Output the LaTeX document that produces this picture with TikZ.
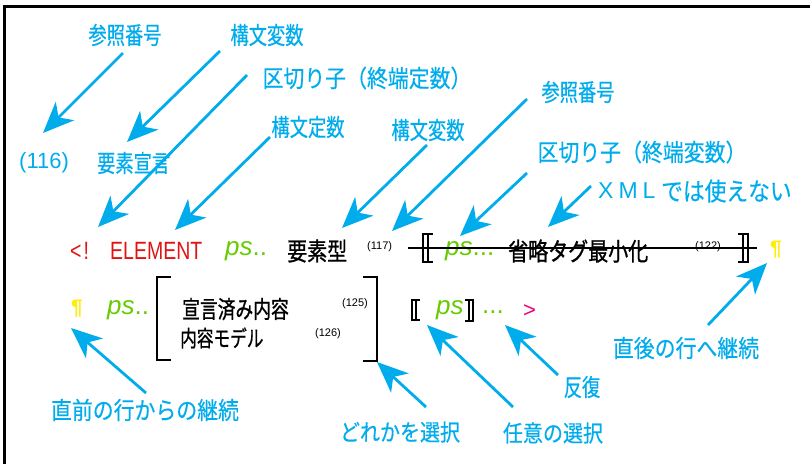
\documentclass[tikz,border=0pt]{standalone}
\usepackage{fontspec}
\setmainfont{Liberation Sans}
\newfontfamily\jpw[FakeStretch=0.87,FakeBold=0.4]{Noto Sans CJK JP}
\newfontfamily\jpn[FakeStretch=0.76,FakeBold=0.4]{Noto Sans CJK JP}
\newfontfamily\jpb[FakeStretch=0.80,FakeBold=0.8]{Noto Sans CJK JP}
\newfontfamily\jpbn[FakeStretch=0.74,FakeBold=0.8]{Noto Sans CJK JP}
\newfontfamily\narrowsans[FakeStretch=0.78]{Liberation Sans}
\usetikzlibrary{arrows.meta}
\definecolor{cyanc}{RGB}{0,172,236}
\definecolor{redc}{RGB}{225,20,20}
\definecolor{greenc}{RGB}{102,204,0}
\definecolor{yellowc}{RGB}{255,238,0}
\definecolor{pinkc}{RGB}{240,0,120}
\tikzset{
  lbl/.style={text=cyanc, inner sep=0pt, font=\jpw\fontsize{24}{26}\selectfont},
  lbln/.style={text=cyanc, inner sep=0pt, font=\jpn\fontsize{24}{26}\selectfont},
  arr/.style={draw=cyanc, line width=2.8pt, -{Stealth[length=31pt,width=26pt,inset=9pt]}},
  blk/.style={text=black, inner sep=0pt, anchor=west, font=\jpb\fontsize{25}{27}\selectfont},
  num/.style={text=black, inner sep=0pt, anchor=west, font=\fontsize{11}{12}\selectfont},
  grn/.style={text=greenc, inner sep=0pt, anchor=west, font=\fontsize{26}{28}\selectfont},
  para/.style={text=yellowc, inner sep=0pt, font=\bfseries\fontsize{21}{23}\selectfont},
  br/.style={draw=black, line width=1.6pt},
  bigbr/.style={draw=black, line width=2.5pt}
}
\begin{document}
\begin{tikzpicture}[x=1pt,y=-1pt]
\useasboundingbox (0,0) rectangle (810,464);
% frame
\draw[line width=3pt] (4,464) -- (4,6) -- (810,6);

% top labels
\node[lbln] (ref1) at (125,35) {参照番号};
\node[lbln] (var1) at (267,35) {構文変数};
\node[lbl] (delim1) at (367,78) {区切り子（終端定数）};
\node[lbln] (const) at (308,127) {構文定数};
\node[lbln] (var2) at (428,130) {構文変数};
\node[lbln] (ref2) at (578,92) {参照番号};
\node[lbl] (delim2) at (642,152) {区切り子（終端変数）};
\node[text=cyanc, inner sep=0pt, anchor=west, font=\fontsize{23}{26}\selectfont] (xmlw) at (598,191) {X\kern5pt M\kern5pt L};
\node[lbl, anchor=west, font=\jpw\fontsize{25}{27}\selectfont] (xml) at (661,191) {では使えない};
\node[text=cyanc, inner sep=0pt, anchor=west, font=\fontsize{22}{24}\selectfont] (n116) at (19,163) {(116)};
\node[lbln, anchor=west] (decl) at (97,163) {要素宣言};

% row 1
\node[text=redc, inner sep=0pt, anchor=west, font=\narrowsans\fontsize{25}{27}\selectfont] (lt) at (70,251) {<\kern2pt!};
\node[text=redc, inner sep=0pt, anchor=west, font=\narrowsans\fontsize{25}{27}\selectfont] (elem) at (110,251) {ELEMENT};
\node[grn] (ps1) at (225,251) {\textit{ps}..};
\node[blk] (etype) at (287,251) {要素型};
\node[num] (n117) at (367,247) {(117)};
\node[grn] (ps2) at (445,251) {\textit{ps}...};
\node[blk] (omit) at (508,251) {省略タグ最小化};
\node[num] (n122) at (695,247) {(122)};
\node[para] (para1) at (776,250) {¶};
% strike line and double brackets
\draw[line width=1.5pt] (408,248) -- (757,248);
\draw[br] (433,234) -- (423,234) -- (423,262) -- (433,262);
\draw[br] (428,234) -- (428,262);
\draw[br] (738,234) -- (748,234) -- (748,262) -- (738,262);
\draw[br] (743,234) -- (743,262);

% row 2
\node[para] (para2) at (77,309) {¶};
\node[grn] (ps3) at (107,310) {\textit{ps}..};
\node[blk, font=\jpbn\fontsize{24}{26}\selectfont] (cdecl) at (182,309) {宣言済み内容};
\node[num] (n125) at (342,304) {(125)};
\node[blk, font=\jpbn\fontsize{22.5}{24}\selectfont] (cmodel) at (180,338) {内容モデル};
\node[num] (n126) at (315,334) {(126)};
\draw[bigbr] (171,277) -- (157,277) -- (157,360) -- (171,360);
\draw[bigbr] (363,277) -- (377,277) -- (377,361) -- (363,361);
\draw[br] (420,300) -- (412,300) -- (412,320) -- (420,320);
\draw[br] (416,300) -- (416,320);
\draw[br] (465,300) -- (473,300) -- (473,321) -- (465,321);
\draw[br] (469,300) -- (469,321);
\node[grn] (ps4) at (436,310) {\textit{ps}};
\node[grn] (dots) at (482,312) {...};
\node[text=pinkc, inner sep=0pt, anchor=west, font=\fontsize{22}{24}\selectfont] (gt) at (523,311) {>};

% bottom labels
\node[lbl] (prev) at (145,410) {直前の行からの継続};
\node[lbl, font=\jpw\fontsize{23}{26}\selectfont] (anyone) at (400,432) {どれかを選択};
\node[lbl, font=\jpw\fontsize{23}{26}\selectfont] (opt) at (553,433) {任意の選択};
\node[lbl, font=\jpn\fontsize{24}{26}\selectfont] (rep) at (582,387) {反復};
\node[lbl] (next) at (686,348) {直後の行へ継続};

% arrow end points
\coordinate (a1s) at (123,53);  \coordinate (a1e) at (43,133);
\coordinate (a2s) at (220,51);  \coordinate (a2e) at (127,142);
\coordinate (a3s) at (247,75);  \coordinate (a3e) at (98,227);
\coordinate (a4s) at (270,137); \coordinate (a4e) at (175,230);
\coordinate (a5s) at (427,145); \coordinate (a5e) at (342,228);
\coordinate (a6s) at (527,99);  \coordinate (a6e) at (392,231);
\coordinate (a7s) at (527,173); \coordinate (a7e) at (460,236);
\coordinate (a8s) at (591,186); \coordinate (a8e) at (548,227);
\coordinate (a9s) at (708,325); \coordinate (a9e) at (767,263);
\coordinate (a10s) at (146,393); \coordinate (a10e) at (71,328);
\coordinate (a11s) at (426,407); \coordinate (a11e) at (377,362);
\coordinate (a12s) at (513,407); \coordinate (a12e) at (427,325);
\coordinate (a13s) at (558,375); \coordinate (a13e) at (505,325);

\draw[arr] (a1s) -- (a1e);
\draw[arr] (a2s) -- (a2e);
\draw[arr] (a3s) -- (a3e);
\draw[arr] (a4s) -- (a4e);
\draw[arr] (a5s) -- (a5e);
\draw[arr] (a6s) -- (a6e);
\draw[arr] (a7s) -- (a7e);
\draw[arr] (a8s) -- (a8e);
\draw[arr] (a9s) -- (a9e);
\draw[arr] (a10s) -- (a10e);
\draw[arr] (a11s) -- (a11e);
\draw[arr] (a12s) -- (a12e);
\draw[arr] (a13s) -- (a13e);
\end{tikzpicture}
\end{document}
